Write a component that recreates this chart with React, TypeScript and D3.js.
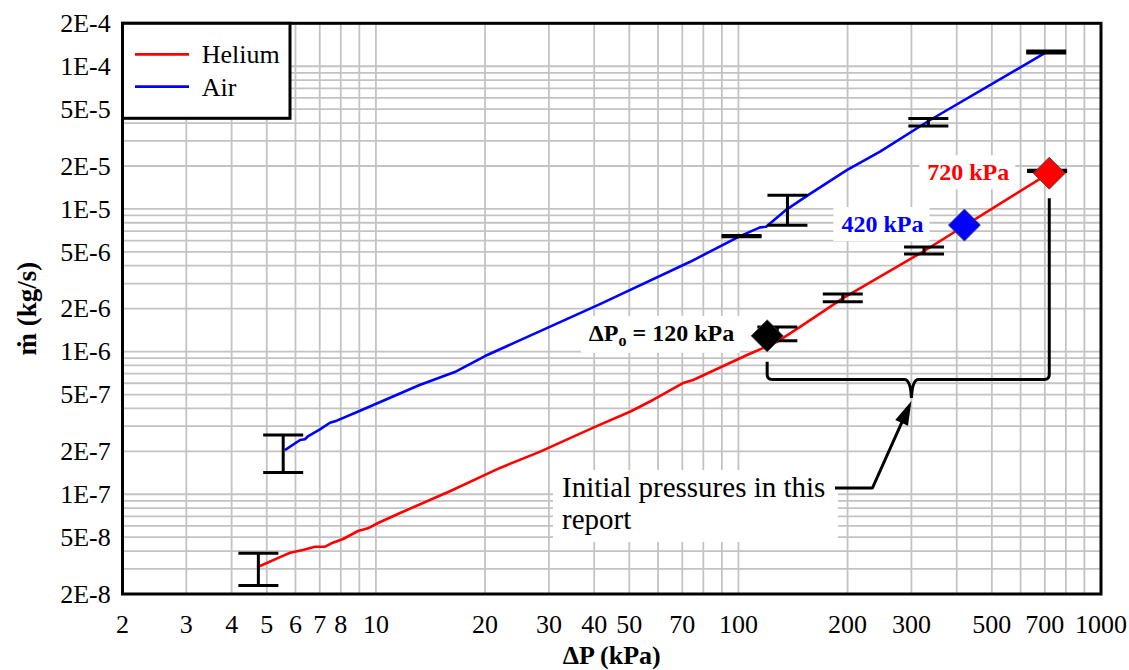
import React, { useEffect, useRef } from "react";
import * as d3 from "d3";

const W = 1129;
const H = 670;

// Helium mass flow rate (kg/s) versus pressure differential (kPa)
const heliumDP = [4.7, 4.79, 5.44, 5.8, 6.29, 6.79, 7.24, 7.61, 8.12, 8.93, 9.51, 10.14, 11.66, 16.0, 22.0, 28.4, 40.2, 50.2, 58.1, 70.3, 75.0, 105.6, 127.8, 147.9, 194.4, 325.1, 527, 720];
const heliumMdot = [3.09e-8, 3.14e-8, 3.63e-8, 3.89e-8, 4.07e-8, 4.29e-8, 4.29e-8, 4.58e-8, 4.86e-8, 5.53e-8, 5.77e-8, 6.29e-8, 7.39e-8, 1.05e-7, 1.53e-7, 1.99e-7, 2.97e-7, 3.79e-7, 4.58e-7, 6.02e-7, 6.32e-7, 9.46e-7, 1.17e-6, 1.49e-6, 2.37e-6, 5.07e-6, 1.09e-5, 1.78e-5];

// Air mass flow rate (kg/s) versus pressure differential (kPa)
const airDP = [5.61, 6.18, 6.37, 6.51, 7.01, 7.47, 7.8, 9.04, 13.2, 16.5, 20.0, 41.5, 73.6, 101, 114.7, 119.2, 136, 155.6, 199, 245.8, 337.8, 708.7];
const airMdot = [2.04e-7, 2.4e-7, 2.43e-7, 2.56e-7, 2.85e-7, 3.17e-7, 3.28e-7, 3.85e-7, 5.83e-7, 7.19e-7, 9.31e-7, 2.15e-6, 4.26e-6, 6.45e-6, 7.43e-6, 7.5e-6, 9.93e-6, 1.25e-5, 1.87e-5, 2.52e-5, 4.2e-5, 1.26e-4];

// Error bars: pressure, lower and upper flow rate
const heliumBarDP = [4.74, 128, 194, 325, 710];
const heliumBarLow = [2.29e-8, 1.19e-6, 2.24e-6, 4.83e-6, 1.83e-5];
const heliumBarHigh = [3.86e-8, 1.49e-6, 2.53e-6, 5.4e-6, 1.87e-5];
const airBarDP = [5.55, 102, 136.5, 334, 706];
const airBarLow = [1.42e-7, 6.38e-6, 7.67e-6, 3.81e-5, 1.24e-4];
const airBarHigh = [2.6e-7, 6.52e-6, 1.245e-5, 4.31e-5, 1.28e-4];

// Initial pressure markers
const markerDP = [120, 420, 720];
const markerMdot = [1.29e-6, 7.7e-6, 1.78e-5];
const markerColors = ["#000000", "#0000ff", "#ff0000"];
const markerLabels = ["120 kPa", "420 kPa", "720 kPa"];

// Axis ticks
const xTickValues = [2, 3, 4, 5, 6, 7, 8, 10, 20, 30, 40, 50, 70, 100, 200, 300, 500, 700, 1000];
const yTickValues = [2e-8, 5e-8, 1e-7, 2e-7, 5e-7, 1e-6, 2e-6, 5e-6, 1e-5, 2e-5, 5e-5, 1e-4, 2e-4];
const yTickLabels = ["2E-8", "5E-8", "1E-7", "2E-7", "5E-7", "1E-6", "2E-6", "5E-6", "1E-5", "2E-5", "5E-5", "1E-4", "2E-4"];

const legendNames = ["Helium", "Air"];
const legendColors = ["#ff0000", "#0000ff"];

const FONT = "'Liberation Serif', 'Times New Roman', serif";

export default function App() {
  const ref = useRef<SVGSVGElement | null>(null);

  useEffect(() => {
    const svg = d3.select(ref.current);
    svg.selectAll("*").remove();

    const left = 122.5, right = 1101, top = 23.3, bottom = 594;
    const x = d3.scaleLog().domain([2, 1000]).range([left, right]);
    const y = d3.scaleLog().domain([2e-8, 2e-4]).range([bottom, top]);

    // grid
    const grid = svg.append("g").attr("stroke", "#c3c3c3").attr("stroke-width", 1.8);
    x.ticks(30).forEach((v) => {
      grid.append("line").attr("x1", x(v)).attr("x2", x(v)).attr("y1", top).attr("y2", bottom);
    });
    y.ticks(40).forEach((v) => {
      grid.append("line").attr("x1", left).attr("x2", right).attr("y1", y(v)).attr("y2", y(v));
    });

    // tick labels
    svg.append("g")
      .selectAll("text")
      .data(xTickValues)
      .join("text")
      .attr("x", (d) => x(d))
      .attr("y", 633)
      .attr("text-anchor", "middle")
      .attr("font-family", FONT)
      .attr("font-size", 26)
      .text((d) => String(d));

    svg.append("g")
      .selectAll("text")
      .data(yTickValues)
      .join("text")
      .attr("x", 110.7)
      .attr("y", (d) => y(d))
      .attr("dy", "0.34em")
      .attr("text-anchor", "end")
      .attr("font-family", FONT)
      .attr("font-size", 26)
      .text((_, i) => yTickLabels[i]);

    // axis titles
    svg.append("text")
      .attr("x", (left + right) / 2)
      .attr("y", 664)
      .attr("text-anchor", "middle")
      .attr("font-family", FONT)
      .attr("font-weight", "bold")
      .attr("font-size", 26)
      .text("ΔP (kPa)");
    svg.append("text")
      .attr("transform", `translate(36, ${(top + bottom) / 2}) rotate(-90)`)
      .attr("text-anchor", "middle")
      .attr("font-family", FONT)
      .attr("font-weight", "bold")
      .attr("font-size", 27)
      .text("ṁ (kg/s)");

    // data lines
    const line = d3.line<[number, number]>().x((d) => x(d[0])).y((d) => y(d[1]));
    svg.append("path")
      .attr("d", line(airDP.map((v, i) => [v, airMdot[i]]) as [number, number][]))
      .attr("fill", "none")
      .attr("stroke", "#0000ff")
      .attr("stroke-width", 2.6)
      .attr("stroke-linejoin", "round");
    svg.append("path")
      .attr("d", line(heliumDP.map((v, i) => [v, heliumMdot[i]]) as [number, number][]))
      .attr("fill", "none")
      .attr("stroke", "#ff0000")
      .attr("stroke-width", 2.6)
      .attr("stroke-linejoin", "round");

    // error bars
    const bars = svg.append("g").attr("stroke", "#000").attr("stroke-width", 3);
    const drawBars = (dp: number[], lo: number[], hi: number[]) => {
      dp.forEach((v, i) => {
        const cx = x(v);
        bars.append("line").attr("x1", cx).attr("x2", cx).attr("y1", y(lo[i])).attr("y2", y(hi[i]));
        [lo[i], hi[i]].forEach((m) => {
          bars.append("line").attr("x1", cx - 20).attr("x2", cx + 20).attr("y1", y(m)).attr("y2", y(m));
        });
      });
    };
    drawBars(heliumBarDP, heliumBarLow, heliumBarHigh);
    drawBars(airBarDP, airBarLow, airBarHigh);

    // labels with white backgrounds
    const labelOffsets = [33, 41, 40];
    markerDP.forEach((v, i) => {
      const cx = x(v), cy = y(markerMdot[i]);
      const g = svg.append("g");
      const bg = g.append("rect").attr("fill", "#fff");
      const t = g.append("text")
        .attr("x", cx - labelOffsets[i])
        .attr("y", cy + (i === 0 ? 5 : 7))
        .attr("text-anchor", "end")
        .attr("font-family", FONT)
        .attr("font-weight", "bold")
        .attr("font-size", 24)
        .attr("fill", markerColors[i]);
      if (i === 0) {
        t.append("tspan").text("ΔP");
        t.append("tspan").attr("font-size", 16).attr("dy", 5).text("o");
        t.append("tspan").attr("dy", -5).text(" = " + markerLabels[i]);
      } else {
        t.text(markerLabels[i]);
      }
      const bb = (t.node() as SVGTextElement).getBBox();
      bg.attr("x", bb.x - 8).attr("y", bb.y - 4).attr("width", bb.width + 14).attr("height", bb.height + 8);
    });

    // markers
    const sym = d3.symbol().type(d3.symbolSquare).size(512);
    markerDP.forEach((v, i) => {
      svg.append("path")
        .attr("d", sym()!)
        .attr("transform", `translate(${x(v)},${y(markerMdot[i])}) rotate(45)`)
        .attr("fill", markerColors[i])
        .attr("stroke", "#444")
        .attr("stroke-width", 0.8);
    });

    // bracket spanning the initial pressures
    const xl = x(markerDP[0]);
    const xr = x(markerDP[2]);
    const xm = x(300);
    const y0 = 379.5;
    const tipY = 398;
    const br = d3.path();
    br.moveTo(xl, y(markerMdot[0]) + 26);
    br.lineTo(xl, y0 - 5);
    br.quadraticCurveTo(xl, y0, xl + 5, y0);
    br.lineTo(xm - 7, y0);
    br.quadraticCurveTo(xm - 1, y0, xm, tipY);
    br.quadraticCurveTo(xm + 1, y0, xm + 7, y0);
    br.lineTo(xr - 5, y0);
    br.quadraticCurveTo(xr, y0, xr, y0 - 5);
    br.lineTo(xr, y(markerMdot[2]) + 25);
    svg.append("path").attr("d", br.toString()).attr("fill", "none").attr("stroke", "#000").attr("stroke-width", 3);

    // note box and arrow
    const note = svg.append("g");
    note.append("rect").attr("x", 553).attr("y", 470).attr("width", 285).attr("height", 72).attr("fill", "#fff");
    const nt = note.append("text").attr("font-family", FONT).attr("font-size", 29);
    nt.append("tspan").attr("x", 562).attr("y", 497).text("Initial pressures in this");
    nt.append("tspan").attr("x", 562).attr("y", 529).text("report");

    const tip: [number, number] = [xm, tipY + 3];
    const elbow: [number, number] = [xm - 39, 488];
    note.append("polyline")
      .attr("points", `835,488 ${elbow[0]},${elbow[1]} ${tip[0] - 0.409 * 18},${tip[1] + 0.913 * 18}`)
      .attr("fill", "none")
      .attr("stroke", "#000")
      .attr("stroke-width", 3)
      .attr("stroke-linejoin", "round");
    const dx = tip[0] - elbow[0], dy = tip[1] - elbow[1];
    const len = Math.hypot(dx, dy);
    const ux = dx / len, uy = dy / len;
    const bx = tip[0] - ux * 24, by = tip[1] - uy * 24;
    const px = -uy, py = ux;
    note.append("path")
      .attr("d", `M${tip[0]},${tip[1]} L${bx + px * 7},${by + py * 7} L${bx - px * 7},${by - py * 7} Z`)
      .attr("fill", "#000");

    // plot frame
    svg.append("rect")
      .attr("x", left).attr("y", top)
      .attr("width", right - left).attr("height", bottom - top)
      .attr("fill", "none").attr("stroke", "#000").attr("stroke-width", 3);

    // legend
    const lg = svg.append("g");
    lg.append("rect")
      .attr("x", left).attr("y", top).attr("width", 167.5).attr("height", 95)
      .attr("fill", "#fff").attr("stroke", "#000").attr("stroke-width", 3);
    legendNames.forEach((name, i) => {
      const ly = 54.3 + i * 32.4;
      lg.append("line").attr("x1", 135).attr("x2", 189).attr("y1", ly).attr("y2", ly)
        .attr("stroke", legendColors[i]).attr("stroke-width", 2.7);
      lg.append("text").attr("x", 201.7).attr("y", ly + 9)
        .attr("font-family", FONT).attr("font-size", 26).text(name);
    });
  }, []);

  return (
    <svg
      ref={ref}
      width={W}
      height={H}
      style={{ position: "absolute", left: 0, top: 0, background: "#fff" }}
    />
  );
}
